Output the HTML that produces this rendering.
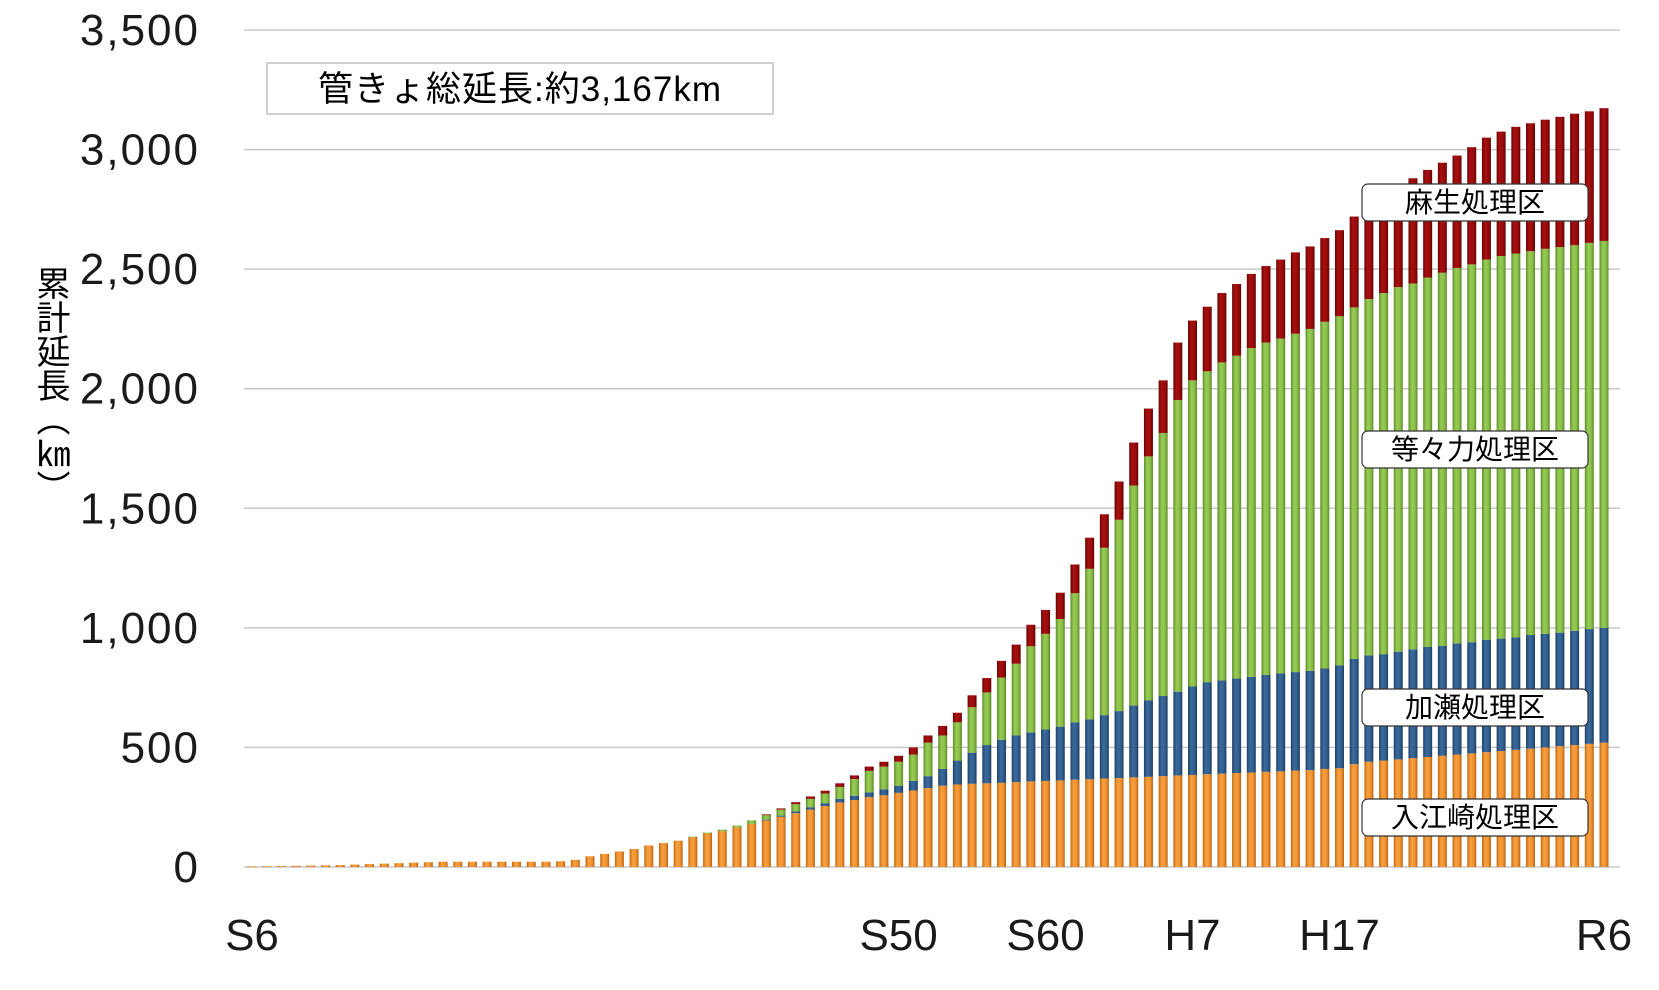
<!DOCTYPE html>
<html><head><meta charset="utf-8"><style>
body{margin:0;background:#fff;}
svg text{font-family:"Liberation Sans","Noto Sans CJK JP",sans-serif;}
</style></head><body>
<svg id="chart" width="1659" height="985" xmlns="http://www.w3.org/2000/svg">
<defs>
<linearGradient id="gO" x1="0" x2="1"><stop offset="0" stop-color="#c46a12"/><stop offset=".35" stop-color="#f8a040"/><stop offset=".7" stop-color="#f29433"/><stop offset="1" stop-color="#b9620f"/></linearGradient>
<linearGradient id="gB" x1="0" x2="1"><stop offset="0" stop-color="#1e4068"/><stop offset=".35" stop-color="#3a6a9c"/><stop offset=".7" stop-color="#335f8e"/><stop offset="1" stop-color="#1c3c62"/></linearGradient>
<linearGradient id="gG" x1="0" x2="1"><stop offset="0" stop-color="#5e8e28"/><stop offset=".35" stop-color="#98cb55"/><stop offset=".7" stop-color="#8cc04a"/><stop offset="1" stop-color="#5a8a25"/></linearGradient>
<linearGradient id="gR" x1="0" x2="1"><stop offset="0" stop-color="#6a0505"/><stop offset=".35" stop-color="#a81010"/><stop offset=".7" stop-color="#9a0b0b"/><stop offset="1" stop-color="#640404"/></linearGradient>
</defs>
<g id="grid"></g>
<g id="bars"></g>
<g id="labels"></g>
<rect x="267" y="63" width="506" height="51" fill="#fff" stroke="#bfbfbf" stroke-width="1.5"/>
<text x="520" y="101" font-size="35" text-anchor="middle" letter-spacing="1" fill="#000">管きょ総延長:約3,167km</text>
<text x="50" y="266" font-size="34" fill="#000" style="writing-mode:vertical-rl;text-orientation:upright">累計延長（㎞）</text>
</svg>
<script>
const categories = ['S6','','','','','','','','','','','','','','','','','','','','','','','','','','','','','','','','','','','','','','','','','','','','S50','','','','','','','','','','S60','','','','','','','','','','H7','','','','','','','','','','H17','','','','','','','','','','','','','','','','','','R6'];
const yTicks = [0,500,1000,1500,2000,2500,3000,3500];
const irieSaki = [2,3,4,5,6,7,8,10,12,14,16,18,20,22,22,22,22,22,22,22,22,24,30,45,55,65,75,90,100,110,125,140,150,165,180,195,210,225,240,255,270,280,292,300,310,320,330,340,345,348,350,352,355,358,360,362,365,367,370,372,375,377,380,383,385,388,390,393,395,398,400,403,405,410,413,430,440,445,450,455,460,465,470,475,480,485,490,495,500,505,510,515,520,523];
const kase = [0,0,0,0,0,0,0,0,0,0,0,0,0,0,0,0,0,0,0,0,0,0,0,0,0,0,0,0,0,0,0,0,0,0,0,3,5,8,10,12,15,18,20,25,30,40,50,70,100,130,160,180,195,205,215,225,240,250,265,280,300,320,335,350,370,385,390,395,400,405,410,412,415,420,430,440,445,445,450,455,460,460,465,465,470,470,470,475,475,475,478,480,480,480];
const todoroki = [0,0,0,0,0,0,0,0,0,0,0,0,0,0,0,0,0,0,0,0,0,0,0,0,0,0,0,0,0,0,2,4,6,8,15,20,25,30,35,40,50,70,90,95,100,110,140,140,160,190,220,260,300,360,400,450,540,630,700,800,920,1020,1100,1220,1280,1300,1330,1350,1375,1390,1400,1415,1430,1450,1460,1470,1490,1510,1525,1530,1545,1560,1570,1580,1590,1600,1605,1605,1610,1612,1612,1615,1618,1610];
const asao = [0,0,0,0,0,0,0,0,0,0,0,0,0,0,0,0,0,0,0,0,0,0,0,0,0,0,0,0,0,0,0,0,0,0,0,2,5,8,10,12,15,15,18,20,25,30,30,40,40,50,60,70,80,90,100,110,120,130,140,160,180,200,220,240,250,270,290,300,310,320,330,340,345,350,360,380,390,400,420,440,450,460,470,490,510,520,530,535,540,545,550,550,555,560];
const seriesNames = ['入江崎処理区','加瀬処理区','等々力処理区','麻生処理区'];

const NS='http://www.w3.org/2000/svg';
const x0=252, x1=1604, yZero=867, yTop=30, yMax=3500;
const n=categories.length;
function xs(i){return x0+(x1-x0)*i/(n-1);}
function ys(v){return yZero-(yZero-yTop)*v/yMax;}
function mk(tag,attrs,parent){const e=document.createElementNS(NS,tag);for(const k in attrs)e.setAttribute(k,attrs[k]);parent.appendChild(e);return e;}
const grid=document.getElementById('grid'),bars=document.getElementById('bars'),labels=document.getElementById('labels');
yTicks.forEach(t=>{
  const l=mk('line',{x1:244,x2:1620,y1:ys(t),y2:ys(t),stroke:'#c8c8c8','stroke-width':1.5},grid);
  
  
  const tx=mk('text',{x:200,y:ys(t)+15,'font-size':44,'letter-spacing':2,'text-anchor':'end',fill:'#1a1a1a'},labels);
  tx.textContent=t.toLocaleString('en-US');
  
  
});
const series=[irieSaki,kase,todoroki,asao], fills=['url(#gO)','url(#gB)','url(#gG)','url(#gR)'], keys=['irie','kase','todoroki','asao'];
const bw=9;
for(let i=0;i<n;i++){
  let acc=0;
  series.forEach((s,k)=>{
    const v=s[i]; if(v<=0)return;
    const yA=ys(acc), yB=ys(acc+v);
    const r=mk('rect',{x:xs(i)-bw/2,y:yB,width:bw,height:Math.max(yA-yB,0.8),fill:fills[k]},bars);
    
    
    acc+=v;
  });
  if(categories[i]){
    const t=mk('text',{x:xs(i),y:950,'font-size':44,'text-anchor':'middle',fill:'#1a1a1a'},labels);
    t.textContent=categories[i];
    
    
  }
}
const boxY=[184,431,689,799];
const order=[3,2,1,0];
order.forEach((k,j)=>{
  const y=boxY[j];
  const r=mk('rect',{x:1362,y:y,width:226,height:37,rx:6,fill:'#fff',stroke:'#333','stroke-width':1.2},labels);
  
  
  const t=mk('text',{x:1475,y:y+28,'font-size':28,'text-anchor':'middle',fill:'#000'},labels);
  t.textContent=seriesNames[k];
  
  
});
</script>
</body></html>
